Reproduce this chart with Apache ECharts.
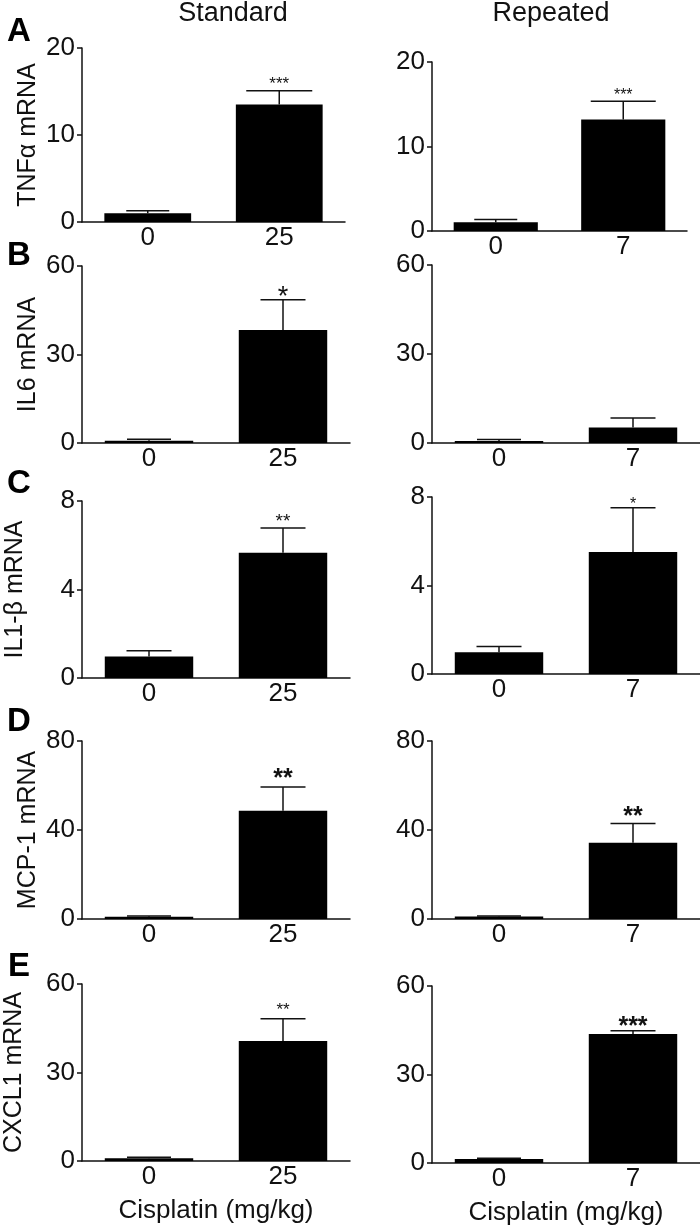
<!DOCTYPE html>
<html>
<head>
<meta charset="utf-8">
<script src="https://cdn.jsdelivr.net/npm/echarts@6/dist/echarts.min.js"></script>
<style>
html,body{margin:0;padding:0;background:#fff;}
#c{width:700px;height:1229px;}
</style>
</head>
<body>
<div id="c"></div>
<script>
// ---- data ----
const standardCats = ['0', '25'];
const repeatedCats = ['0', '7'];

const tnfStd = [1.0, 13.5];   const tnfStdErr = [0.3, 1.6];   const tnfStdStars = ['', '***'];
const tnfRep = [1.05, 13.2];  const tnfRepErr = [0.3, 2.15];  const tnfRepStars = ['', '***'];
const il6Std = [0.8, 38.3];   const il6StdErr = [0.45, 10.3]; const il6StdStars = ['', '*'];
const il6Rep = [0.7, 5.2];    const il6RepErr = [0.45, 3.2];  const il6RepStars = ['', ''];
const il1bStd = [0.97, 5.66]; const il1bStdErr = [0.26, 1.12]; const il1bStdStars = ['', '**'];
const il1bRep = [0.98, 5.51]; const il1bRepErr = [0.26, 2.0];  const il1bRepStars = ['', '*'];
const mcpStd = [1.0, 48.7];   const mcpStdErr = [0.4, 10.6];  const mcpStdStars = ['', '**'];
const mcpRep = [1.1, 34.3];   const mcpRepErr = [0.3, 8.6];   const mcpRepStars = ['', '**'];
const cxclStd = [0.9, 40.7];  const cxclStdErr = [0.35, 7.5]; const cxclStdStars = ['', '**'];
const cxclRep = [1.35, 43.7]; const cxclRepErr = [0.3, 1.1];  const cxclRepStars = ['', '***'];

const yNames = ['TNF\u03b1 mRNA', 'IL6 mRNA', 'IL1-\u03b2 mRNA', 'MCP-1 mRNA', 'CXCL1 mRNA'];
const yMaxes = [20, 60, 8, 80, 60];
const yIntervals = [10, 30, 4, 40, 30];
const xAxisName = 'Cisplatin (mg/kg)';
const colTitles = ['Standard', 'Repeated'];
const panelLetters = ['A', 'B', 'C', 'D', 'E'];

// ---- layout / style ----
const FONT = '"Liberation Sans", Arial, Helvetica, sans-serif';
const INK = '#111';
const gridsL = [
  {left: 82, top: 48, width: 263, height: 174},
  {left: 82, top: 266, width: 268, height: 177},
  {left: 82, top: 501, width: 268, height: 177},
  {left: 82, top: 741, width: 268, height: 178},
  {left: 82, top: 984, width: 268, height: 177}
];
const gridsR = [
  {left: 432, top: 62, width: 255, height: 169},
  {left: 432, top: 265, width: 268, height: 178},
  {left: 432, top: 497, width: 268, height: 177},
  {left: 432, top: 741, width: 268, height: 178},
  {left: 432, top: 986, width: 268, height: 177}
];
const nameGaps = [41, 41, 54, 41, 55];
const capWL = [[43, 66], [44, 45], [45, 45], [44, 45], [44, 45]];
const capWR = [[43, 65], [44, 45], [45, 45], [44, 45], [44, 45]];
const starSizeL = [17, 27, 19, 25, 17];
const starSizeR = [16, 22, 16, 25, 25];
const starGapL = [11, 10, 12, 15, 13];
const starGapR = [10, 10, 8, 13, 11];
const starBoldL = [false, false, false, true, false];
const starBoldR = [false, false, false, true, true];

const rows = [
  [tnfStd, tnfStdErr, tnfStdStars, tnfRep, tnfRepErr, tnfRepStars],
  [il6Std, il6StdErr, il6StdStars, il6Rep, il6RepErr, il6RepStars],
  [il1bStd, il1bStdErr, il1bStdStars, il1bRep, il1bRepErr, il1bRepStars],
  [mcpStd, mcpStdErr, mcpStdStars, mcpRep, mcpRepErr, mcpRepStars],
  [cxclStd, cxclStdErr, cxclStdStars, cxclRep, cxclRepErr, cxclRepStars]
];

const grid = [], xAxis = [], yAxis = [], series = [];

function errSeries(idx, vals, errs, stars, capW, starSize, starGap, bold) {
  return {
    type: 'custom', xAxisIndex: idx, yAxisIndex: idx, z: 5, silent: true,
    data: vals.map((v, k) => [k, v, errs[k]]),
    renderItem: function (params, api) {
      const k = api.value(0), v = api.value(1), e = api.value(2);
      const p0 = api.coord([k, v]);
      const p1 = api.coord([k, v + e]);
      const hw = capW[k] / 2;
      const children = [
        {type: 'line', shape: {x1: p0[0], y1: p0[1], x2: p1[0], y2: p1[1]}, style: {stroke: INK, lineWidth: 1.5}},
        {type: 'line', shape: {x1: p1[0] - hw, y1: p1[1], x2: p1[0] + hw, y2: p1[1]}, style: {stroke: INK, lineWidth: 1.5}}
      ];
      const s = stars[params.dataIndex];
      if (s) {
        children.push({
          type: 'text',
          style: {
            text: s, x: p1[0], y: p1[1] - starGap + 0.28 * starSize,
            textAlign: 'center', textVerticalAlign: 'middle',
            font: (bold ? 'bold ' : '') + starSize + 'px ' + FONT, fill: INK
          }
        });
      }
      return {type: 'group', children: children};
    }
  };
}

rows.forEach((r, i) => {
  [0, 1].forEach(col => {
    const idx = grid.length;
    const g = col === 0 ? gridsL[i] : gridsR[i];
    grid.push(Object.assign({containLabel: false}, g));
    const isBottom = i === rows.length - 1;
    xAxis.push({
      type: 'category', gridIndex: idx,
      data: col === 0 ? standardCats : repeatedCats,
      axisLine: {lineStyle: {color: INK, width: 1.5}},
      axisTick: {alignWithLabel: true, length: 5, lineStyle: {color: INK, width: 1.5}},
      axisLabel: {color: INK, fontSize: 26, fontFamily: FONT, margin: 3},
      name: isBottom ? xAxisName : '',
      nameLocation: 'middle', nameGap: 37,
      nameTextStyle: {color: INK, fontSize: 26, fontFamily: FONT}
    });
    yAxis.push({
      type: 'value', gridIndex: idx, min: 0, max: yMaxes[i], interval: yIntervals[i],
      axisLine: {show: true, lineStyle: {color: INK, width: 1.5}},
      axisTick: {show: true, length: 5, lineStyle: {color: INK, width: 1.5}},
      splitLine: {show: false},
      axisLabel: {color: INK, fontSize: 26, fontFamily: FONT, margin: 7},
      name: col === 0 ? yNames[i] : '',
      nameLocation: 'middle', nameGap: nameGaps[i],
      nameTextStyle: {color: INK, fontSize: 25, fontFamily: FONT}
    });
    const vals = col === 0 ? r[0] : r[3];
    const errs = col === 0 ? r[1] : r[4];
    const stars = col === 0 ? r[2] : r[5];
    series.push({
      type: 'bar', xAxisIndex: idx, yAxisIndex: idx, data: vals,
      barWidth: '66%', itemStyle: {color: '#000'}, silent: true, z: 3
    });
    series.push(errSeries(idx, vals, errs, stars,
      col === 0 ? capWL[i] : capWR[i],
      col === 0 ? starSizeL[i] : starSizeR[i],
      col === 0 ? starGapL[i] : starGapR[i],
      col === 0 ? starBoldL[i] : starBoldR[i]));
  });
});

const letterY = [32, 256, 484, 722, 967];
const graphic = [
  {type: 'text', x: 233, y: 14, style: {text: colTitles[0], font: '27px ' + FONT, fill: INK, textAlign: 'center', textVerticalAlign: 'middle'}},
  {type: 'text', x: 551, y: 14, style: {text: colTitles[1], font: '27px ' + FONT, fill: INK, textAlign: 'center', textVerticalAlign: 'middle'}}
];
panelLetters.forEach((L, i) => {
  graphic.push({type: 'text', x: 19, y: letterY[i], style: {text: L, font: 'bold 33px ' + FONT, fill: '#000', textAlign: 'center', textVerticalAlign: 'middle'}});
});

const chart = echarts.init(document.getElementById('c'), null, {renderer: 'canvas'});
chart.setOption({
  animation: false,
  backgroundColor: '#fff',
  grid: grid, xAxis: xAxis, yAxis: yAxis, series: series, graphic: graphic
});
</script>
</body>
</html>
